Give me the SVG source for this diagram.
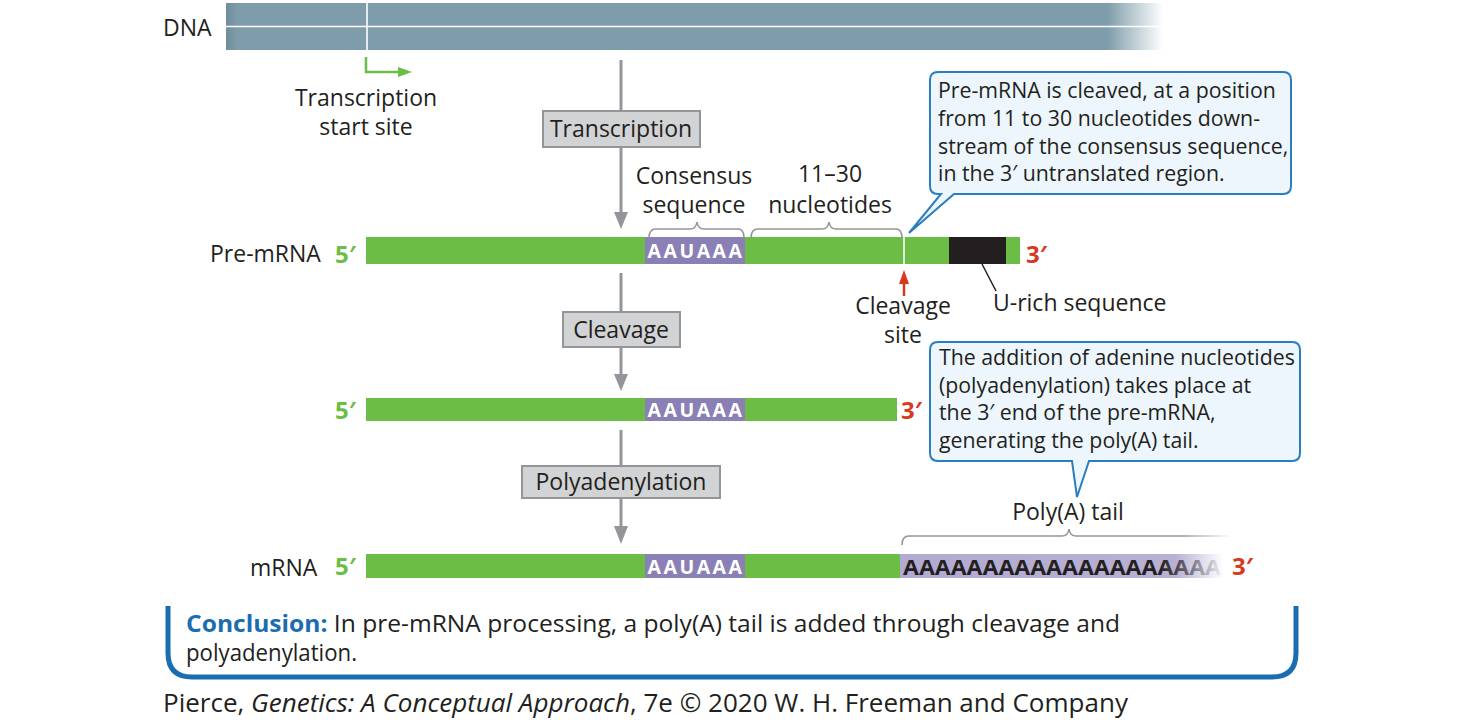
<svg xmlns="http://www.w3.org/2000/svg" width="1464" height="722" viewBox="0 0 1464 722">
<style>
.lbl{font-family:"Open Sans","Liberation Sans",sans-serif;font-size:23px;fill:#231f20}
.box{fill:#d1d3d4;stroke:#939598;stroke-width:2}
.boxt{font-family:"Open Sans","Liberation Sans",sans-serif;font-size:23px;fill:#231f20;text-anchor:middle}
.flow{stroke:#939598;stroke-width:3;fill:none}
.green{fill:#6bbd45}
.purple{fill:#8b80b6}
.aau{font-family:"Open Sans","Liberation Sans",sans-serif;font-size:19.5px;font-weight:bold;fill:#fff;text-anchor:middle;letter-spacing:2.5px}
.five{font-family:"Open Sans","Liberation Sans",sans-serif;font-size:24px;font-weight:bold;fill:#6bbd45}
.three{font-family:"Open Sans","Liberation Sans",sans-serif;font-size:24px;font-weight:bold;fill:#d6391e}
.brace{stroke:#939598;stroke-width:1.6;fill:none}
.callout{fill:#edf6fc;stroke:#2a7dbf;stroke-width:2}
.ctext{font-family:"Open Sans","Liberation Sans",sans-serif;font-size:21.3px;fill:#231f20}
</style>
<defs>
<linearGradient id="dnaG" gradientUnits="userSpaceOnUse" x1="226" y1="0" x2="1163" y2="0">
<stop offset="0" stop-color="#6f8d9b"/>
<stop offset="0.012" stop-color="#7e9caa"/>
<stop offset="0.94" stop-color="#7e9caa"/>
<stop offset="1" stop-color="#ffffff"/>
</linearGradient>
<linearGradient id="polyG" gradientUnits="userSpaceOnUse" x1="900" y1="0" x2="1224" y2="0">
<stop offset="0" stop-color="#b2aad1"/>
<stop offset="0.85" stop-color="#b8b1d4"/>
<stop offset="1" stop-color="#ffffff"/>
</linearGradient>
<linearGradient id="polyT" gradientUnits="userSpaceOnUse" x1="900" y1="0" x2="1224" y2="0">
<stop offset="0.8" stop-color="#231f20"/>
<stop offset="1" stop-color="#231f20" stop-opacity="0"/>
</linearGradient>
<linearGradient id="braceG" gradientUnits="userSpaceOnUse" x1="900" y1="0" x2="1232" y2="0">
<stop offset="0.85" stop-color="#939598"/>
<stop offset="1" stop-color="#939598" stop-opacity="0"/>
</linearGradient>
</defs>

<g id="dna">
<rect x="226" y="3" width="937" height="47" fill="url(#dnaG)"/>
<line x1="226" y1="26.5" x2="1163" y2="26.5" stroke="#ffffff" stroke-width="1.6"/>
<line x1="367" y1="3" x2="367" y2="50" stroke="#ffffff" stroke-width="1.6"/>
<text class="lbl" x="163" y="36">DNA</text>
</g>

<g id="tss">
<path d="M366,57 V72 H400" stroke="#6bbd45" stroke-width="2.5" fill="none"/>
<path d="M398,67 L412,72 L398,77 Z" fill="#6bbd45"/>
<text class="lbl" x="366" y="106" text-anchor="middle">Transcription</text>
<text class="lbl" x="366" y="135" text-anchor="middle">start site</text>
</g>

<g id="connectors">
<line class="flow" x1="621" y1="60" x2="621" y2="111"/>
<line class="flow" x1="621" y1="147" x2="621" y2="214"/>
<path d="M614,212 L621,229 L628,212 Z" fill="#939598"/>
<line class="flow" x1="621" y1="273" x2="621" y2="312"/>
<line class="flow" x1="621" y1="347" x2="621" y2="376"/>
<path d="M614,374 L621,391 L628,374 Z" fill="#939598"/>
<line class="flow" x1="621" y1="430" x2="621" y2="466"/>
<line class="flow" x1="621" y1="498" x2="621" y2="528"/>
<path d="M614,526 L621,544 L628,526 Z" fill="#939598"/>
<line x1="904" y1="296" x2="904" y2="282" stroke="#d6391e" stroke-width="2.5"/>
<path d="M899,284 L904,270 L909,284 Z" fill="#d6391e"/>
<line x1="982" y1="264" x2="996" y2="291" stroke="#231f20" stroke-width="1.5"/>
</g>

<g id="step-transcription">
<rect class="box" x="543" y="111" width="157" height="36"/>
<text class="boxt" x="621" y="137">Transcription</text>
</g>
<g id="step-cleavage">
<rect class="box" x="563" y="312" width="117" height="35"/>
<text class="boxt" x="621" y="338">Cleavage</text>
</g>
<g id="step-polyadenylation">
<rect class="box" x="522" y="466" width="198" height="32"/>
<text class="boxt" x="621" y="490">Polyadenylation</text>
</g>

<g id="premrna">
<text class="lbl" x="210" y="262">Pre-mRNA</text>
<text class="five" x="335" y="263">5′</text>
<rect class="green" x="366" y="237" width="654" height="27"/>
<rect class="purple" x="645" y="237" width="100" height="27"/>
<text class="aau" x="696" y="258">AAUAAA</text>
<line x1="904" y1="237" x2="904" y2="264" stroke="#ffffff" stroke-width="1.6"/>
<rect x="949" y="237" width="57" height="27" fill="#231f20"/>
<text class="three" x="1026" y="263">3′</text>
<path class="brace" d="M649,238 Q649,229 656,229 H690 Q696,229 697,222 Q698,229 704,229 H738 Q744,229 744,238"/>
<path class="brace" d="M751,238 Q751,229 758,229 H822 Q828,229 829,222 Q830,229 836,229 H896 Q902,229 902,238"/>
<text class="lbl" x="694" y="184" text-anchor="middle">Consensus</text>
<text class="lbl" x="694" y="213" text-anchor="middle">sequence</text>
<text class="lbl" x="830" y="182" text-anchor="middle">11–30</text>
<text class="lbl" x="830" y="213" text-anchor="middle">nucleotides</text>
<text class="lbl" x="903" y="314" text-anchor="middle">Cleavage</text>
<text class="lbl" x="903" y="343" text-anchor="middle">site</text>
<text class="lbl" x="993" y="311">U-rich sequence</text>
</g>

<g id="callout-cleavage">
<path class="callout" d="M938,72 H1283 Q1291,72 1291,80 V186 Q1291,194 1283,194 H954 L909,233 L941,194 H938 Q930,194 930,186 V80 Q930,72 938,72 Z"/>
<text class="ctext" x="938" y="98">Pre-mRNA is cleaved, at a position</text>
<text class="ctext" x="938" y="126">from 11 to 30 nucleotides down-</text>
<text class="ctext" x="938" y="154">stream of the consensus sequence,</text>
<text class="ctext" x="938" y="181">in the 3′ untranslated region.</text>
</g>

<g id="cleaved">
<text class="five" x="335" y="419">5′</text>
<rect class="green" x="366" y="398" width="531" height="23"/>
<rect class="purple" x="645" y="398" width="100" height="23"/>
<text class="aau" x="696" y="417">AAUAAA</text>
<text class="three" x="901" y="419">3′</text>
</g>

<g id="callout-poly">
<path class="callout" d="M938,342 H1292 Q1300,342 1300,350 V453 Q1300,461 1292,461 H1089 L1077,497 L1072,461 H938 Q930,461 930,453 V350 Q930,342 938,342 Z"/>
<text class="ctext" x="939" y="365">The addition of adenine nucleotides</text>
<text class="ctext" x="939" y="393">(polyadenylation) takes place at</text>
<text class="ctext" x="939" y="420">the 3′ end of the pre-mRNA,</text>
<text class="ctext" x="939" y="448">generating the poly(A) tail.</text>
</g>

<g id="mrna">
<text class="lbl" x="250" y="576">mRNA</text>
<text class="five" x="335" y="575">5′</text>
<rect class="green" x="366" y="554" width="534" height="24"/>
<rect class="purple" x="645" y="554" width="100" height="24"/>
<text class="aau" x="696" y="574">AAUAAA</text>
<rect x="900" y="554" width="324" height="24" fill="url(#polyG)"/>
<text x="903" y="575" font-family="'Open Sans','Liberation Sans',sans-serif" font-size="22" font-weight="bold" fill="url(#polyT)" textLength="318" lengthAdjust="spacingAndGlyphs">AAAAAAAAAAAAAAAAAAAA</text>
<text class="three" x="1232" y="575">3′</text>
<path d="M902,545 Q902,536 909,536 H1062 Q1068,536 1069,529 Q1070,536 1076,536 H1230" stroke="url(#braceG)" stroke-width="1.6" fill="none"/>
<text class="lbl" x="1068" y="520" text-anchor="middle">Poly(A) tail</text>
</g>

<g id="conclusion">
<path d="M168,606 V653 Q168,677 192,677 H1272 Q1296,677 1296,653 V606" fill="none" stroke="#1a6db0" stroke-width="5"/>
<text x="186" y="632" font-family="'Open Sans','Liberation Sans',sans-serif" font-size="23" fill="#231f20" textLength="934" lengthAdjust="spacingAndGlyphs"><tspan font-weight="bold" fill="#1a6db0">Conclusion:</tspan> In pre-mRNA processing, a poly(A) tail is added through cleavage and</text>
<text x="186" y="661" font-family="'Open Sans','Liberation Sans',sans-serif" font-size="23" fill="#231f20" textLength="171" lengthAdjust="spacingAndGlyphs">polyadenylation.</text>
</g>

<g id="credit">
<text x="163" y="712" font-family="'Open Sans','Liberation Sans',sans-serif" font-size="26" fill="#231f20" textLength="965" lengthAdjust="spacingAndGlyphs">Pierce, <tspan font-style="italic">Genetics: A Conceptual Approach</tspan>, 7e © 2020 W. H. Freeman and Company</text>
</g>
</svg>
